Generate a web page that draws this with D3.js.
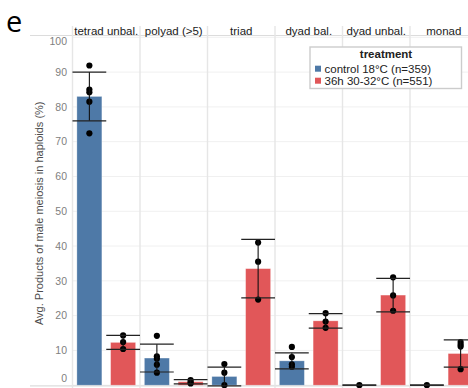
<!DOCTYPE html>
<html>
<head>
<meta charset="utf-8">
<script src="https://cdn.jsdelivr.net/npm/d3@7"></script>
<style>
  html, body { margin: 0; padding: 0; background: #fff; }
  svg { display: block; font-family: "Liberation Sans", Arial, sans-serif; }
</style>
</head>
<body>
<svg id="chart" width="468" height="388"></svg>
<script>
const categories = ["tetrad unbal.", "polyad (>5)", "triad", "dyad bal.", "dyad unbal.", "monad"];
const treatments = ["control 18°C (n=359)", "36h 30-32°C (n=551)"];
const controlMean = [83.0, 7.8, 2.5, 7.0, 0, 0];
const controlSD   = [7.0, 4.0, 2.7, 2.3, 0, 0];
const heatMean    = [12.3, 1.0, 33.5, 18.5, 25.9, 9.1];
const heatSD      = [2.0, 0.6, 8.4, 2.1, 4.8, 3.9];
const controlPoints = [[91.9, 85.0, 84.2, 81.5, 72.4], [14.2, 8.3, 7.6, 5.9, 3.6], [6.1, 3.6, 0], [11.0, 8.1, 6.0, 5.3], [0], [0]];
const heatPoints    = [[14.3, 12.4, 10.4], [1.5, 0.9, 0.5], [41.0, 35.5, 24.6], [20.7, 18.3, 16.5], [31.0, 25.8, 21.4], [12.4, 11.7, 11.1, 4.6]];
const yTicks = [0, 10, 20, 30, 40, 50, 60, 70, 80, 90, 100];
const colors = ["#4e79a7", "#e15759"];

const svg = d3.select("#chart");
const x0 = 72.5, panelW = 67.5, yBottom = 385.2, yTop = 37.3;

const y = d3.scaleLinear().domain([0, 100]).range([yBottom, yTop]);
const px = d3.scaleBand().domain(categories).range([x0, x0 + panelW * categories.length]).paddingInner(0).paddingOuter(0);
const bx = d3.scaleBand().domain(treatments).range([0, panelW]).paddingInner(0.26).paddingOuter(0.13);

// horizontal gridlines
svg.append("g").selectAll("line").data(yTicks).join("line")
  .attr("x1", x0).attr("x2", 468)
  .attr("y1", d => y(d)).attr("y2", d => y(d))
  .attr("stroke", "#f0f0f0").attr("stroke-width", 1);

// top and bottom frame lines
svg.append("line").attr("x1", 30).attr("x2", 468).attr("y1", 35.5).attr("y2", 35.5)
  .attr("stroke", "#dcdcdc").attr("stroke-width", 1.2);
svg.append("line").attr("x1", 30).attr("x2", 468).attr("y1", 385.8).attr("y2", 385.8)
  .attr("stroke", "#dcdcdc").attr("stroke-width", 1.2);

// panel separators
const seps = categories.map(c => px(c)).concat([px(categories[categories.length - 1]) + panelW]);
svg.append("g").selectAll("line").data(seps).join("line")
  .attr("x1", d => d).attr("x2", d => d)
  .attr("y1", 26).attr("y2", 388)
  .attr("stroke", "#e6e6e6").attr("stroke-width", 1.4);

// strip labels
svg.append("g").selectAll("text").data(categories).join("text")
  .attr("x", d => px(d) + panelW / 2).attr("y", 35)
  .attr("text-anchor", "middle").attr("font-size", 11.5).attr("fill", "#1a1a1a")
  .text(d => d);

// y tick labels
const yAxis = svg.append("g");
yAxis.selectAll("text").data(yTicks).join("text")
  .attr("x", 67).attr("y", d => y(d) + (d === 100 ? 4.4 : d === 0 ? -7 : 0))
  .attr("dy", "0.35em")
  .attr("text-anchor", "end").attr("font-size", 10.5).attr("fill", "#808080")
  .text(d => d3.format("d")(d));

// axis title
svg.append("text")
  .attr("transform", `translate(43, ${(yTop + yBottom) / 2 + 2}) rotate(-90)`)
  .attr("text-anchor", "middle").attr("font-size", 11).attr("fill", "#4d4d4d")
  .text("Avg. Products of male meiosis in haploids (%)");

// panel label
svg.append("text").attr("x", 6).attr("y", 32)
  .attr("font-family", "'Open Sans', sans-serif").attr("font-size", 29).attr("fill", "#000")
  .text("e");

// data rows
const rows = [];
categories.forEach((c, i) => {
  rows.push({ cat: c, t: treatments[0], mean: controlMean[i], sd: controlSD[i], pts: controlPoints[i], col: colors[0] });
  rows.push({ cat: c, t: treatments[1], mean: heatMean[i], sd: heatSD[i], pts: heatPoints[i], col: colors[1] });
});
const cx = d => px(d.cat) + bx(d.t) + bx.bandwidth() / 2;

// bars
svg.append("g").selectAll("rect").data(rows).join("rect")
  .attr("x", d => px(d.cat) + bx(d.t)).attr("width", bx.bandwidth())
  .attr("y", d => y(d.mean)).attr("height", d => y(0) - y(d.mean))
  .attr("fill", d => d.col).attr("stroke", "#fff").attr("stroke-opacity", 0.35).attr("stroke-width", 0.8);

// points
const pg = svg.append("g");
rows.forEach(r => {
  pg.selectAll(null).data(r.pts).join("circle")
    .attr("cx", cx(r)).attr("cy", v => y(v)).attr("r", 3.1).attr("fill", "#000");
});

// error bars
const eg = svg.append("g");
const capW = bx.step();
eg.selectAll("line.v").data(rows).join("line").attr("class", "v")
  .attr("x1", cx).attr("x2", cx)
  .attr("y1", d => y(d.mean + d.sd)).attr("y2", d => y(d.mean - d.sd))
  .attr("stroke", "#111").attr("stroke-width", 1.1);
eg.selectAll("line.top").data(rows).join("line").attr("class", "top")
  .attr("x1", d => cx(d) - capW / 2).attr("x2", d => cx(d) + capW / 2)
  .attr("y1", d => y(d.mean + d.sd)).attr("y2", d => y(d.mean + d.sd))
  .attr("stroke", "#222").attr("stroke-width", 1.2);
eg.selectAll("line.bot").data(rows).join("line").attr("class", "bot")
  .attr("x1", d => cx(d) - capW / 2).attr("x2", d => cx(d) + capW / 2)
  .attr("y1", d => y(d.mean - d.sd)).attr("y2", d => y(d.mean - d.sd))
  .attr("stroke", "#222").attr("stroke-width", 1.2);

// legend
const lg = svg.append("g").attr("transform", "translate(310,47)");
lg.append("rect").attr("width", 151.5).attr("height", 41.5)
  .attr("fill", "#fff").attr("stroke", "#cccccc").attr("stroke-width", 1.4);
lg.append("text").attr("x", 76).attr("y", 11).attr("text-anchor", "middle")
  .attr("font-size", 11.5).attr("font-weight", "bold").attr("fill", "#222").text("treatment");
treatments.forEach((t, i) => {
  lg.append("rect").attr("x", 5).attr("y", 18.7 + i * 12).attr("width", 6).attr("height", 6).attr("fill", colors[i]);
  lg.append("text").attr("x", 14.5).attr("y", 21.7 + i * 12).attr("dy", "0.35em")
    .attr("font-size", 11.5).attr("fill", "#222").text(t);
});
</script>
</body>
</html>
